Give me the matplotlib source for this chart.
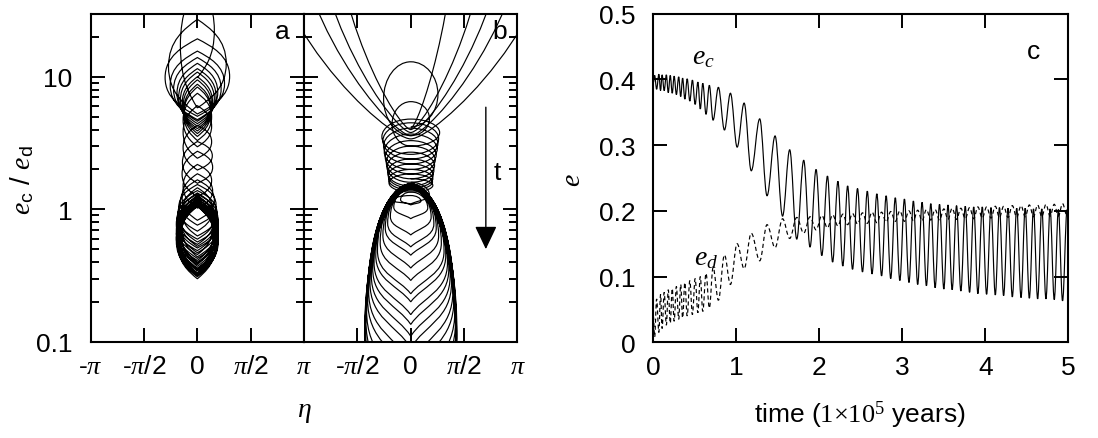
import numpy as np
import matplotlib
matplotlib.use('Agg')
import matplotlib.pyplot as plt
from matplotlib.path import Path
from matplotlib.patches import PathPatch

plt.rcParams['font.family'] = ['Liberation Sans', 'DejaVu Sans']
plt.rcParams['mathtext.fontset'] = 'custom'
plt.rcParams['mathtext.rm'] = 'Liberation Serif'
plt.rcParams['mathtext.it'] = 'Liberation Serif:italic'
plt.rcParams['mathtext.sf'] = 'Liberation Sans'

# ---- panel c: extrema of e_c (peaks / troughs) and e_d at the same times ----
# times of e_c troughs (e_d peaks), 1e5 yr
t_tr = [0.0, 0.04, 0.087, 0.131, 0.18, 0.228, 0.278, 0.33, 0.38, 0.44,
        0.504, 0.566, 0.635, 0.72, 0.857, 1.01, 1.18, 1.37, 1.557, 1.728,
        1.888, 2.03, 2.16, 2.283, 2.40, 2.52, 2.635, 2.75, 2.86, 2.97,
        3.08, 3.185, 3.29, 3.395, 3.50, 3.60, 3.705, 3.81, 3.91, 4.015,
        4.12, 4.22, 4.325, 4.43, 4.53, 4.63, 4.73, 4.83, 4.93]
ec_tr = [0.395, 0.385, 0.383, 0.383, 0.380, 0.379, 0.377, 0.374, 0.370, 0.367,
         0.362, 0.355, 0.347, 0.338, 0.323, 0.297, 0.261, 0.223, 0.192, 0.157,
         0.145, 0.132, 0.122, 0.116, 0.111, 0.107, 0.104, 0.101, 0.097, 0.094,
         0.091, 0.088, 0.086, 0.083, 0.081, 0.080, 0.078, 0.076, 0.074, 0.073,
         0.072, 0.071, 0.069, 0.068, 0.067, 0.066, 0.066, 0.065, 0.063]
ed_pk = [0.040, 0.066, 0.073, 0.076, 0.080, 0.082, 0.085, 0.088, 0.091, 0.094,
         0.097, 0.100, 0.105, 0.114, 0.133, 0.150, 0.166, 0.179, 0.188, 0.190,
         0.191, 0.193, 0.194, 0.195, 0.196, 0.197, 0.198, 0.198, 0.199, 0.200,
         0.200, 0.201, 0.202, 0.202, 0.203, 0.204, 0.204, 0.205, 0.206, 0.206,
         0.207, 0.207, 0.208, 0.208, 0.209, 0.209, 0.210, 0.210, 0.211]
# times of e_c peaks (e_d troughs)
t_pk = [0.016, 0.067, 0.106, 0.157, 0.204, 0.251, 0.306, 0.353, 0.408, 0.471,
        0.537, 0.596, 0.675, 0.784, 0.929, 1.094, 1.282, 1.467, 1.643, 1.812,
        1.961, 2.098, 2.224, 2.341, 2.46, 2.578, 2.693, 2.805, 2.915, 3.025,
        3.133, 3.238, 3.343, 3.448, 3.55, 3.653, 3.758, 3.86, 3.963, 4.068,
        4.17, 4.273, 4.378, 4.48, 4.58, 4.68, 4.78, 4.88, 4.985]
ec_pk = [0.406, 0.408, 0.407, 0.407, 0.406, 0.405, 0.404, 0.402, 0.401, 0.399,
         0.396, 0.394, 0.391, 0.388, 0.379, 0.364, 0.340, 0.314, 0.293, 0.277,
         0.263, 0.253, 0.245, 0.238, 0.234, 0.230, 0.226, 0.223, 0.220, 0.218,
         0.215, 0.213, 0.211, 0.210, 0.209, 0.208, 0.207, 0.206, 0.206, 0.205,
         0.205, 0.204, 0.204, 0.204, 0.203, 0.203, 0.203, 0.202, 0.202]
ed_tr = [0.008, 0.015, 0.021, 0.026, 0.029, 0.032, 0.035, 0.037, 0.040, 0.042,
         0.045, 0.047, 0.052, 0.064, 0.088, 0.112, 0.124, 0.144, 0.158, 0.166,
         0.171, 0.174, 0.177, 0.179, 0.180, 0.181, 0.182, 0.183, 0.184, 0.184,
         0.185, 0.185, 0.186, 0.186, 0.187, 0.187, 0.188, 0.188, 0.189, 0.189,
         0.190, 0.190, 0.190, 0.191, 0.191, 0.191, 0.192, 0.192, 0.192]

# ---- panel a: libration half-width of eta for each e_c cycle (rad) ----
eta_amp_a = [0.50, 0.85, 0.95, 0.80, 0.70, 0.60, 0.55, 0.50, 0.45, 0.42,
             0.40, 0.40, 0.42, 0.42, 0.42, 0.44, 0.45, 0.42, 0.45, 0.50,
             0.55, 0.45, 0.58, 0.50, 0.60, 0.48, 0.56, 0.62, 0.52, 0.60,
             0.45, 0.58, 0.62, 0.50, 0.57, 0.60, 0.47, 0.55, 0.62, 0.52,
             0.58, 0.60, 0.50, 0.56, 0.62, 0.54, 0.60, 0.58, 0.55]

# ---- panel b: loops (upper ratio, lower ratio, eta half-width) ----
# wide early loops whose tops are far off the chart
b_fan_top = [3e4, 3e4, 3e4, 3e4, 3e4]
b_fan_bot = [3.4, 3.6, 3.8, 4.0, 4.1]
b_fan_amp = [4.6, 3.6, 3.0, 2.4, 1.4]
# narrowing chain (starts from a low point)
b_bot = [4.2, 3.6, 3.0, 2.6, 2.4, 2.2, 2.0, 1.85, 1.7, 1.6, 1.5, 1.45, 1.4, 1.35]
b_top = [13, 6.5, 4.8, 4.5, 4.1, 3.7, 3.3, 3.0, 2.7, 2.4, 2.2, 2.0, 1.85, 1.7]
b_amp = [0.8, 0.55, 0.85, 0.82, 0.80, 0.78, 0.75, 0.72, 0.70, 0.68, 0.66, 0.65, 0.64, 0.65]
# late loops, tops near 1.5, bottoms sinking
b_top2 = [1.6, 1.27, 1.35, 1.4, 1.42, 1.45, 1.45, 1.47, 1.48, 1.5, 1.5, 1.52,
          1.52, 1.53, 1.53, 1.54, 1.55, 1.55, 1.56, 1.56, 1.5, 1.45]
b_bot2 = [1.1, 1.08, 0.85, 0.64, 0.52, 0.45, 0.36, 0.29, 0.23, 0.2, 0.16, 0.135,
          0.11, 0.09, 0.07, 0.055, 0.04, 0.03, 0.025, 0.02, 0.018, 0.015]
b_amp2 = [0.55, 0.3, 0.5, 0.6, 0.68, 0.75, 0.82, 0.9, 0.98, 1.03, 1.08, 1.12,
          1.16, 1.2, 1.24, 1.27, 1.3, 1.32, 1.34, 1.36, 1.35, 1.33]

pi_labels_a = ['-$\\pi$', '-$\\pi$/2', '0', '$\\pi$/2', '$\\pi$']
pi_labels_b = ['', '-$\\pi$/2', '0', '$\\pi$/2', '$\\pi$']

FS = 19
LW = 0.85


def wave_path(ts, vs, c=0.36):
    verts = [(ts[0], vs[0])]
    codes = [Path.MOVETO]
    for i in range(1, len(ts)):
        dt = ts[i] - ts[i - 1]
        verts += [(ts[i - 1] + c * dt, vs[i - 1]), (ts[i] - c * dt, vs[i]), (ts[i], vs[i])]
        codes += [Path.CURVE4] * 3
    return Path(verts, codes)


def loop_path(levels, amps, f=0.5, kt=0.55, st=0.0, kb=0.55, sb=0.0):
    # trajectory in (eta, log ratio): eta = 0 at each extreme of the ratio
    y = np.log10(levels)
    verts = [(0.0, y[0])]
    codes = [Path.MOVETO]

    def end_ctrl(ye, ym, a, is_top):
        if is_top:
            return (kt * a, ye + st * (ym - ye))
        return (kb * a, ye + sb * (ym - ye))

    for j in range(len(y) - 1):
        y0, y1 = y[j], y[j + 1]
        lo, hi = min(y0, y1), max(y0, y1)
        ym = lo + f * (hi - lo)
        a = amps[j]
        verts += [end_ctrl(y0, ym, a, y0 > y1), (a, ym + 0.55 * (y0 - ym)), (a, ym)]
        verts += [(a, ym + 0.55 * (y1 - ym)), end_ctrl(y1, ym, a, y1 > y0), (0.0, y1)]
        codes += [Path.CURVE4] * 6
    verts = np.array(verts)
    verts[:, 1] = 10 ** verts[:, 1]
    return Path(verts, codes)


def interleave(first, second):
    out = []
    for u, v in zip(first, second):
        out += [u, v]
    return out


def signed(amps, n):
    out = []
    for a in amps:
        out += [a, -a]
    return out[:n]


def add_loops(ax, first, second, amps, **kw):
    lev = interleave(first, second)
    p = loop_path(lev, signed(amps, len(lev) - 1), **kw)
    ax.add_patch(PathPatch(p, fill=False, lw=LW, ec='black'))


fig = plt.figure(figsize=(10.98, 4.39), dpi=100)
axa = fig.add_axes([0.0826, 0.2194, 0.1943, 0.7471])
axb = fig.add_axes([0.2769, 0.2194, 0.1944, 0.7471])
axc = fig.add_axes([0.595, 0.218, 0.378, 0.7485])

for ax in (axa, axb, axc):
    for s in ax.spines.values():
        s.set_linewidth(1.5)
    ax.tick_params(which='both', direction='in', top=True, right=True,
                   width=1.4, labelsize=FS)
    ax.tick_params(which='major', length=10)
    ax.tick_params(which='minor', length=5.5)

# panel a: ratio e_c/e_d taken at the extrema of panel c
ratio_seq = interleave([e / d for e, d in zip(ec_tr, ed_pk)],
                       [e / d for e, d in zip(ec_pk, ed_tr)])
pa = loop_path(ratio_seq, signed(eta_amp_a, len(ratio_seq) - 1),
               kt=0.45, st=0.2, kb=0.45, sb=0.2)
axa.add_patch(PathPatch(pa, fill=False, lw=LW, ec='black'))

# panel b
add_loops(axb, b_fan_top, b_fan_bot, b_fan_amp, kb=0.15)
add_loops(axb, b_bot, b_top, b_amp)
add_loops(axb, b_top2, b_bot2, b_amp2, f=0.4, kb=0.35, sb=0.35)

pi_ticks = [-np.pi, -np.pi / 2, 0, np.pi / 2, np.pi]
for ax, labs in ((axa, pi_labels_a), (axb, pi_labels_b)):
    ax.set_yscale('log')
    ax.set_xlim(-np.pi, np.pi)
    ax.set_ylim(0.1, 30)
    ax.set_xticks(pi_ticks)
    ax.set_xticklabels(labs)
    ax.set_yticks([0.1, 1, 10])
    ax.set_yticks([0.2, 0.3, 0.4, 0.5, 0.6, 0.7, 0.8, 0.9,
                   2, 3, 4, 5, 6, 7, 8, 9, 20], minor=True)
    ax.tick_params(axis='x', pad=9)
    ax.tick_params(axis='y', pad=13)
    ax.yaxis.set_minor_formatter(plt.NullFormatter())
axa.set_yticklabels(['0.1', '1', '10'])
axb.set_yticklabels([])

axa.text(0.90, 0.947, 'a', transform=axa.transAxes, ha='center', va='center', fontsize=FS)
axb.text(0.918, 0.947, 'b', transform=axb.transAxes, ha='center', va='center', fontsize=FS)
axb.annotate('', xy=(2.21, 0.5), xytext=(2.21, 5.9),
             arrowprops=dict(arrowstyle='-|>,head_length=0.8,head_width=0.38',
                             mutation_scale=18, lw=1.0, color='black',
                             shrinkA=0, shrinkB=0))
axb.text(2.54, 1.92, 't', ha='center', va='center', fontsize=FS)

fig.text(0.02, 0.59, '$e_{\\mathsf{c}}$ / $e_{\\mathsf{d}}$', rotation=90,
         ha='center', va='center', fontsize=20)
fig.text(0.2769, 0.062, '$\\eta$', ha='center', va='center', fontsize=20)

# panel c
t_c = interleave(t_tr, t_pk)
ec_c = interleave(ec_tr, ec_pk)
ed_c = interleave(ed_pk, ed_tr)
axc.add_patch(PathPatch(wave_path(t_c, ec_c), fill=False, lw=LW, ec='black'))
axc.add_patch(PathPatch(wave_path(t_c, ed_c), fill=False, lw=LW, ec='black',
                        linestyle=(0, (3.5, 2.5))))
axc.set_xlim(0, 5)
axc.set_ylim(0, 0.5)
axc.set_xticks([0, 1, 2, 3, 4, 5])
axc.set_xticklabels(['0', '1', '2', '3', '4', '5'])
axc.set_yticks([0, 0.1, 0.2, 0.3, 0.4, 0.5])
axc.set_yticklabels(['0', '0.1', '0.2', '0.3', '0.4', '0.5'])
axc.tick_params(axis='x', pad=9)
axc.tick_params(axis='y', pad=13)
axc.text(0.60, 0.435, '$e_c$', ha='center', va='center', fontsize=20)
axc.text(0.64, 0.13, '$e_d$', ha='center', va='center', fontsize=20)
axc.text(0.915, 0.886, 'c', transform=axc.transAxes, ha='center', va='center', fontsize=FS)
fig.text(0.522, 0.59, '$e$', rotation=90, ha='center', va='center', fontsize=20)
fig.text(0.783, 0.055, 'time ($\\mathrm{1{\\times}10^{5}}$ years)', ha='center',
         va='center', fontsize=FS)

fig.savefig('out.png', dpi=100)
